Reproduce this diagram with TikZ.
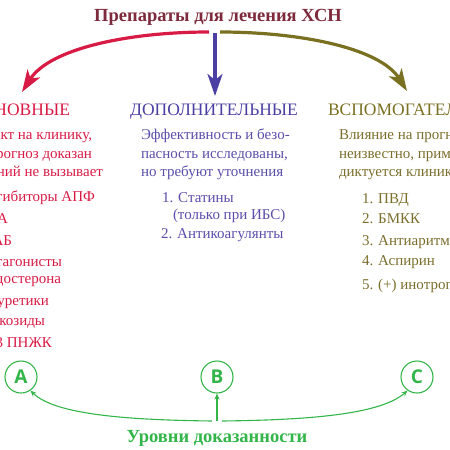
\documentclass[tikz,border=0pt]{standalone}
\usepackage{fontspec}
\setmainfont{Liberation Serif}
\newfontfamily\lettfont{Open Sans}
\usetikzlibrary{arrows.meta}
\definecolor{ctitle}{HTML}{7D2A3C}
\definecolor{cred}{HTML}{D81B45}
\definecolor{cblue}{HTML}{4B3FA3}
\definecolor{cbluet}{HTML}{5A4EAA}
\definecolor{colive}{HTML}{7A7022}
\definecolor{colivet}{HTML}{7A6E2C}
\definecolor{cgreen}{HTML}{33B54A}
\tikzset{
  txt/.style={inner sep=0pt, outer sep=0pt},
  ttl/.style={txt, font=\fontsize{18.5}{22}\selectfont\bfseries, text=ctitle},
  hdr/.style={txt, font=\fontsize{17.5}{20}\selectfont},
  body/.style={txt, font=\fontsize{15}{18}\selectfont},
  lvl/.style={circle, draw=cgreen, line width=1.1pt, minimum size=32pt, inner sep=0pt,
    text=cgreen, font=\lettfont\bfseries\fontsize{19}{22}\selectfont},
  bigarrow/.style={line width=3.2pt, -{Stealth[length=22pt,width=15pt,inset=6pt]}},
  garrow/.style={draw=cgreen, line width=1.1pt, -{Stealth[length=6pt,width=5pt]}}
}
\begin{document}
\begin{tikzpicture}[x=1pt,y=-1pt]
\useasboundingbox (0,0) rectangle (450,450);
\clip (0,0) rectangle (450,450);
% title
\node[ttl, anchor=base] (title) at (218,21) {Препараты для лечения ХСН};
\coordinate (rs) at (209,32);
\coordinate (bs) at (215,33);
\coordinate (os) at (220,32);
\coordinate (re) at (22,92);
\coordinate (be) at (215,96);
\coordinate (oe) at (407,91);
\draw[bigarrow, draw=cred] (rs) .. controls (130,32) and (50,48) .. (re);
\draw[bigarrow, draw=cblue] (bs) -- (be);
\draw[bigarrow, draw=colive] (os) .. controls (300,32) and (380,48) .. (oe);
% left column
\node[hdr, text=cred, anchor=base east] (lh) at (70,115) {ОСНОВНЫЕ};
\node[body, text=cred, anchor=base east] (l1) at (92,139) {Эффект на клинику,};
\node[body, text=cred, anchor=base east] (l2) at (92,158) {прогноз доказан};
\node[body, text=cred, anchor=base east] (l3) at (103,176) {сомнений не вызывает};
\node[body, text=cred, anchor=base east] (li1) at (95,201) {1. Ингибиторы АПФ};
\node[body, text=cred, anchor=base east] (li2) at (8,223) {2. АРА};
\node[body, text=cred, anchor=base east] (li3) at (12,245) {3. β-АБ};
\node[body, text=cred, anchor=base east] (li4) at (62,266) {4. Антагонисты};
\node[body, text=cred, anchor=base east] (li4b) at (61,283) {альдостерона};
\node[body, text=cred, anchor=base east] (li5) at (49,305) {5. Диуретики};
\node[body, text=cred, anchor=base east] (li6) at (45,325) {6. Гликозиды};
\node[body, text=cred, anchor=base east] (li7) at (52,347) {7. ω-3 ПНЖК};
% middle column
\node[hdr, text=cblue, anchor=base] (mh) at (214,115) {ДОПОЛНИТЕЛЬНЫЕ};
\node[body, text=cbluet, anchor=base west] (m1) at (141,139) {Эффективность и безо-};
\node[body, text=cbluet, anchor=base west] (m2) at (141,158) {пасность исследованы,};
\node[body, text=cbluet, anchor=base west] (m3) at (141,176) {но требуют уточнения};
\node[body, text=cbluet, anchor=base west] (mi1) at (162,202) {1. Статины};
\node[body, text=cbluet, anchor=base west] (mi1b) at (173,219) {(только при ИБС)};
\node[body, text=cbluet, anchor=base west] (mi2) at (161,238) {2. Антикоагулянты};
% right column
\node[hdr, text=colive, anchor=base west] (rh) at (328,115) {ВСПОМОГАТЕЛЬНЫЕ};
\node[body, text=colivet, anchor=base west] (r1) at (339,139) {Влияние на прогноз};
\node[body, text=colivet, anchor=base west] (r2) at (339,158) {неизвестно, применение};
\node[body, text=colivet, anchor=base west] (r3) at (339,176) {диктуется клиникой};
\node[body, text=colivet, anchor=base west] (ri1) at (362,203) {1. ПВД};
\node[body, text=colivet, anchor=base west] (ri2) at (362,223) {2. БМКК};
\node[body, text=colivet, anchor=base west] (ri3) at (362,245) {3. Антиаритмики};
\node[body, text=colivet, anchor=base west] (ri4) at (362,265) {4. Аспирин};
\node[body, text=colivet, anchor=base west] (ri5) at (362,289) {5. (+) инотропные};
% levels
\node[lvl] (A) at (21,377) {A};
\node[lvl] (B) at (217,377) {B};
\node[lvl] (C) at (417,377) {C};
\node[txt, anchor=base, text=cgreen, font=\fontsize{18.5}{22}\selectfont\bfseries] (lv) at (217,442) {Уровни доказанности};
\coordinate (gl) at (212,421);
\coordinate (gm) at (217,421);
\coordinate (gr) at (222,421);
\draw[garrow] (gl) .. controls (130,420) and (55,415) .. (A.-55);
\draw[garrow] (gm) -- (B.south);
\draw[garrow] (gr) .. controls (305,420) and (380,415) .. (C.-125);
\end{tikzpicture}
\end{document}
